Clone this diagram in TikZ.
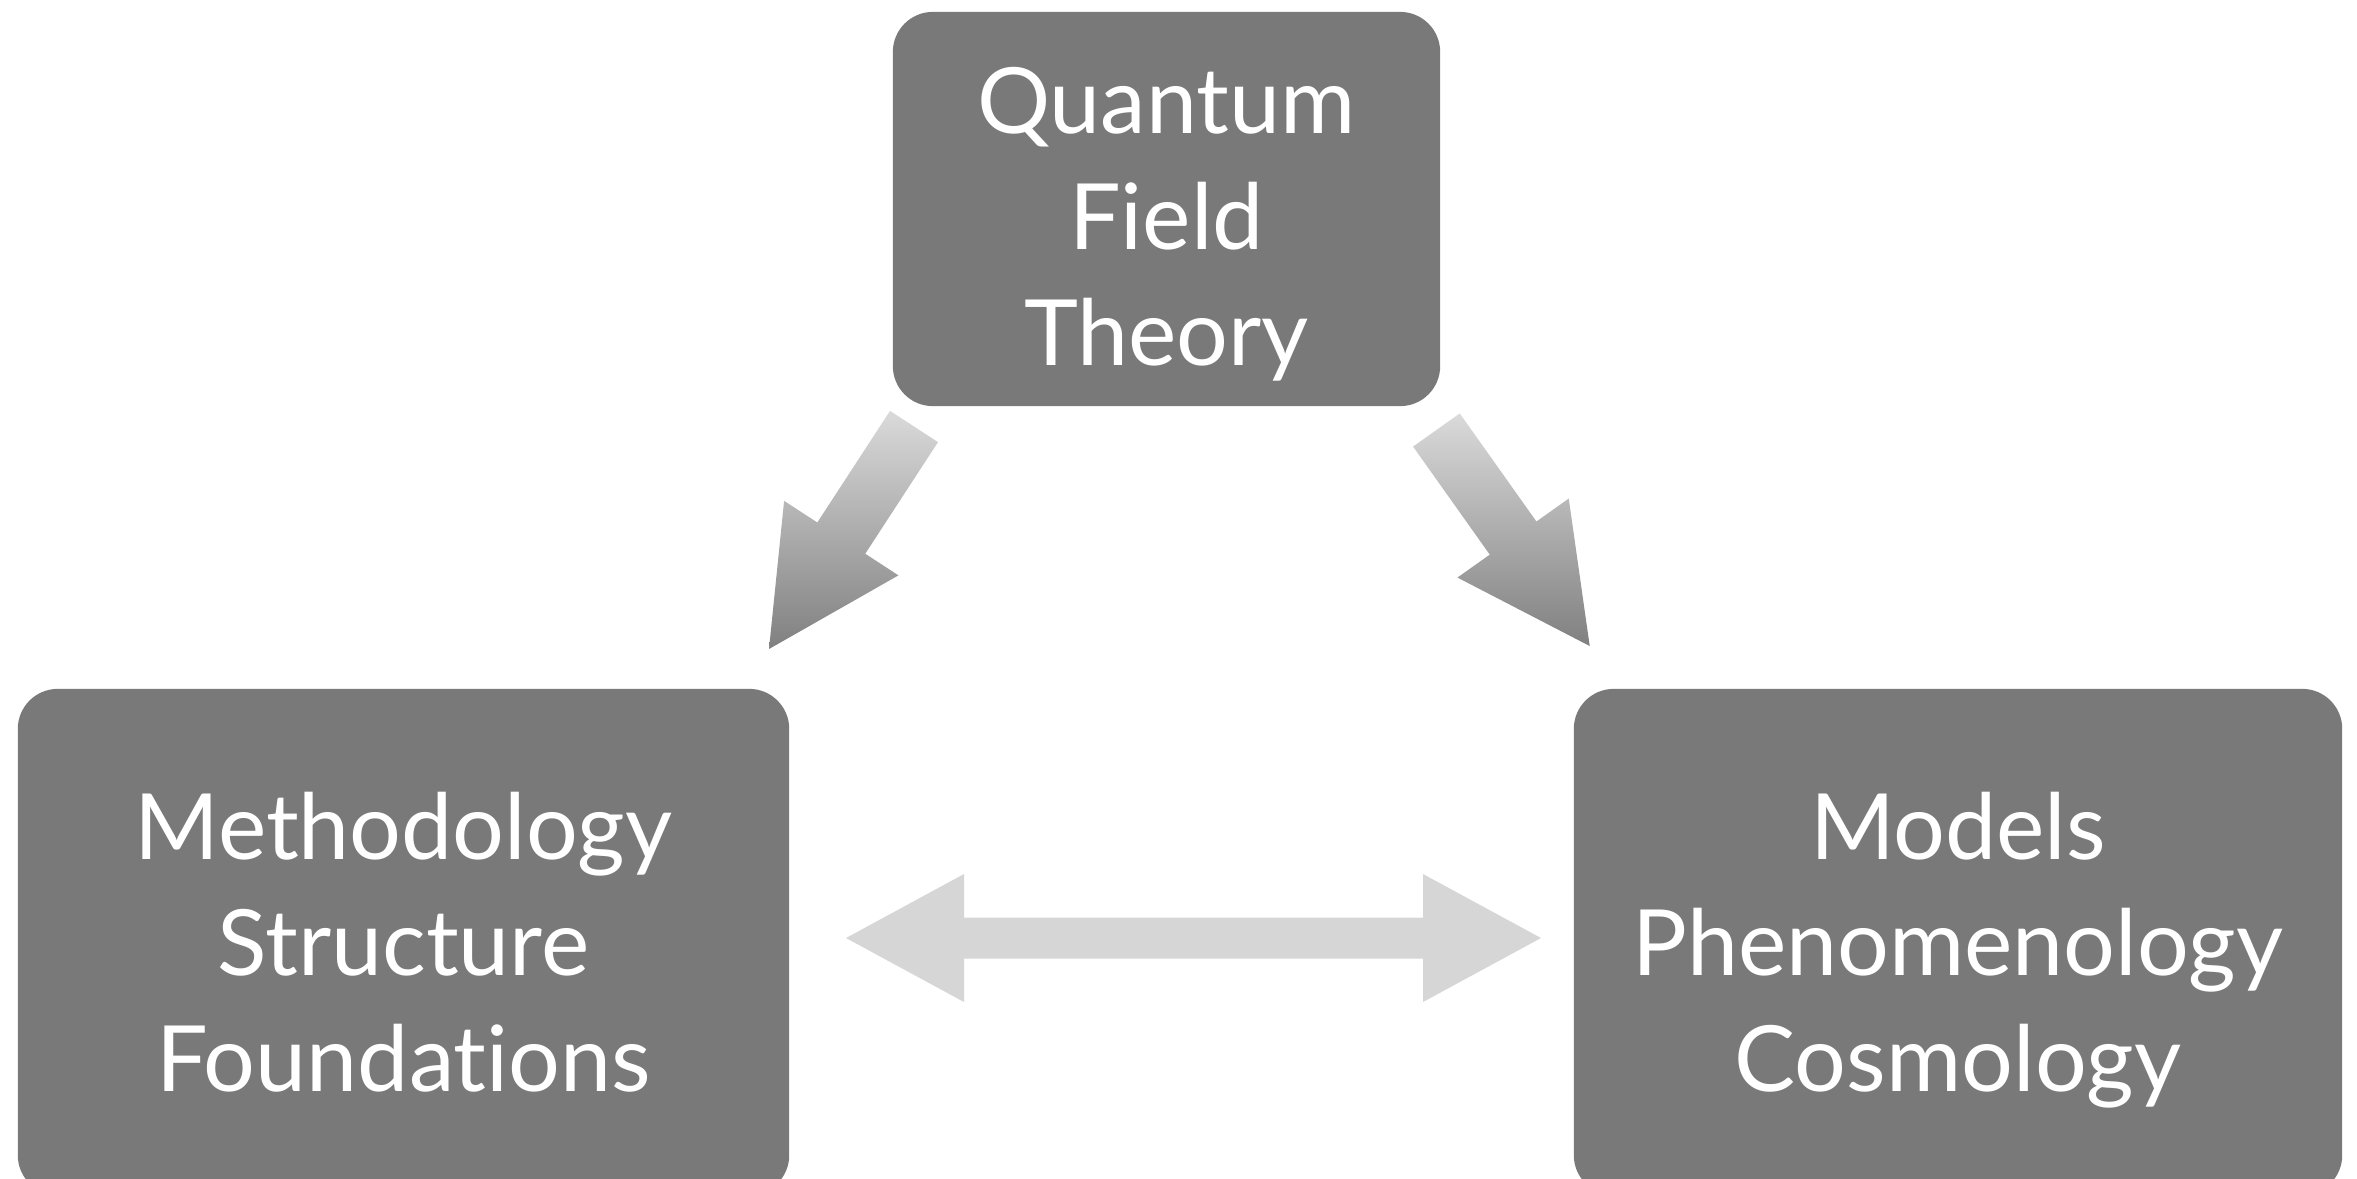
\documentclass[tikz,border=0pt]{standalone}
\usepackage{fontspec}
\setmainfont{Lato}[Ligatures=NoCommon]
\usepackage{xcolor}
\usetikzlibrary{calc}

\definecolor{boxgray}{RGB}{121,121,121}
\definecolor{arrowlight}{RGB}{218,218,218}
\definecolor{arrowdark}{RGB}{128,128,128}
\definecolor{linkgray}{RGB}{214,214,214}

\begin{document}
\begin{tikzpicture}[
  x=0.01cm, y=-0.01cm,
  topic/.style={rectangle, fill=boxgray, rounded corners=0.4cm, inner sep=0pt,
                text=white, align=center, text height=96pt, text depth=11pt,
                font=\fontsize{26pt}{33pt}\selectfont},
  fatarrow/.style={top color=arrowlight, bottom color=arrowdark, draw=none},
  link/.style={fill=linkgray, draw=none},
]
  \useasboundingbox (0,0) rectangle (2357,1178);

  \node[topic, text height=100pt, minimum width=5.47cm, minimum height=3.94cm] (qft)
    at (1166.5,209) {Quantum\\Field\\Theory};
  \node[topic, minimum width=7.71cm, minimum height=5.06cm] (meth) at (403.5,942)
    {Methodology\\Structure\\Foundations};
  \node[topic, minimum width=7.68cm, minimum height=5.06cm] (models) at (1958,942)
    {Models\\Phenomenology\\Cosmology};

  % arrow ends
  \coordinate (qftL) at (914,426.5);
  \coordinate (methT) at (769,649);
  \coordinate (qftR) at (1436.4,430);
  \coordinate (modelsT) at (1589.7,646);
  \coordinate (methR) at (846,938);
  \coordinate (modelsL) at (1541,938);

  \coordinate (baseL) at ($(methT)!1.323cm!(qftL)$);
  \coordinate (baseR) at ($(modelsT)!1.323cm!(qftR)$);

  \shade[fatarrow] ($(qftL)!0.286cm!90:(methT)$) -- ($(baseL)!0.286cm!90:(methT)$)
    -- ($(baseL)!0.682cm!90:(methT)$) -- (methT) -- ($(baseL)!0.682cm!-90:(methT)$)
    -- ($(baseL)!0.286cm!-90:(methT)$) -- ($(qftL)!0.286cm!-90:(methT)$) -- cycle;
  \shade[fatarrow] ($(qftR)!0.286cm!90:(modelsT)$) -- ($(baseR)!0.286cm!90:(modelsT)$)
    -- ($(baseR)!0.682cm!90:(modelsT)$) -- (modelsT) -- ($(baseR)!0.682cm!-90:(modelsT)$)
    -- ($(baseR)!0.286cm!-90:(modelsT)$) -- ($(qftR)!0.286cm!-90:(modelsT)$) -- cycle;

  \fill[link] (methR) -- ($(methR)+(118,-64)$) -- ($(methR)+(118,-20.5)$)
    -- ($(modelsL)+(-118,-20.5)$) -- ($(modelsL)+(-118,-64)$) -- (modelsL)
    -- ($(modelsL)+(-118,64)$) -- ($(modelsL)+(-118,20.5)$)
    -- ($(methR)+(118,20.5)$) -- ($(methR)+(118,64)$) -- cycle;
\end{tikzpicture}
\end{document}
